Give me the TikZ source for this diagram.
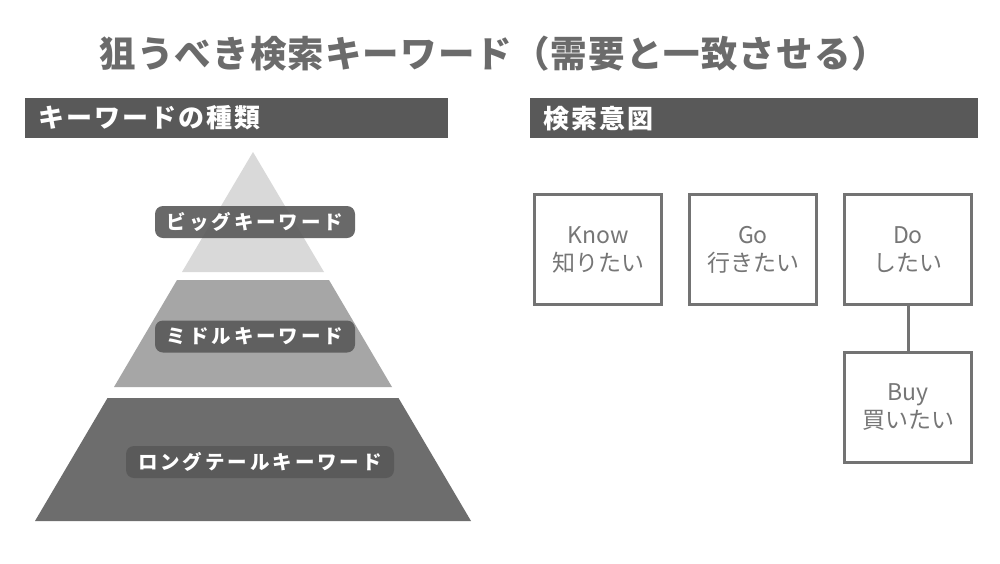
\documentclass[tikz,border=0pt]{standalone}
\usepackage{fontspec}
\usepackage{tikz}
\setmainfont{Noto Sans CJK JP}
\newfontfamily\titrefont[LetterSpace=3]{Noto Sans CJK JP}
\newfontfamily\barrefont[LetterSpace=8]{Noto Sans CJK JP}
\newfontfamily\pastillefont[LetterSpace=15]{Noto Sans CJK JP}
\definecolor{titlegray}{HTML}{6B6B6B}
\definecolor{bargray}{HTML}{595959}
\definecolor{layerlight}{HTML}{D9D9D9}
\definecolor{layermid}{HTML}{A6A6A6}
\definecolor{layerdark}{HTML}{6D6D6D}
\definecolor{boxgray}{HTML}{737373}
\definecolor{textgray}{HTML}{767676}

\begin{document}
\begin{tikzpicture}[x=1pt, y=-1pt]
      % Styles
      \tikzstyle{bar} = [fill=bargray, text=white, anchor=north west, minimum height=40pt, inner xsep=13pt, align=left, font=\barrefont\bfseries\fontsize{26}{26}\selectfont]
      \tikzstyle{pastille} = [fill=bargray, fill opacity=0.9, text opacity=1, text=white, rounded corners=8pt, minimum height=32pt, inner xsep=0pt, font=\pastillefont\bfseries\fontsize{19.5}{19.5}\selectfont]
      \tikzstyle{intent} = [draw=boxgray, line width=3pt, minimum width=127pt, minimum height=110pt, align=center, text=textgray, font=\fontsize{23}{30}\selectfont]

      \useasboundingbox[fill=white] (0,0) rectangle (1000,563);

      % Titre
      \node[text=titlegray, font=\titrefont\bfseries\fontsize{36.5}{36.5}\selectfont] (titre) at (494,54) {狙うべき検索キーワード（需要と一致させる）};

      % Bandeaux
      \node[bar, text width=397pt] (kwbar) at (25,98) {キーワードの種類};
      \node[bar, text width=422pt] (intbar) at (530,98) {検索意図};

      % Pyramide
      \fill[layerlight] (253,152) -- (324,272) -- (182,272) -- cycle;
      \fill[layermid] (177,280) -- (329,280) -- (392,387) -- (114,387) -- cycle;
      \fill[layerdark] (107.5,398) -- (398.5,398) -- (471,521) -- (35,521) -- cycle;

      \node[pastille, minimum width=200pt] (big) at (255,222) {ビッグキーワード};
      \node[pastille, minimum width=200pt] (middle) at (255,336.5) {ミドルキーワード};
      \node[pastille, minimum width=268pt] (longtail) at (260,462) {ロングテールキーワード};

      % Intentions
      \node[intent] (know) at (598,249.5) {\raisebox{-2pt}{Know}\\知りたい};
      \node[intent] (go) at (753,249.5) {\raisebox{-2pt}{Go}\\行きたい};
      \node[intent] (do) at (908,249.5) {\raisebox{-2pt}{Do}\\したい};
      \node[intent] (buy) at (908,407.5) {\raisebox{-2pt}{Buy}\\買いたい};

      \draw[line width=3pt, boxgray] (do) -- (buy);

    \end{tikzpicture}
\end{document}
